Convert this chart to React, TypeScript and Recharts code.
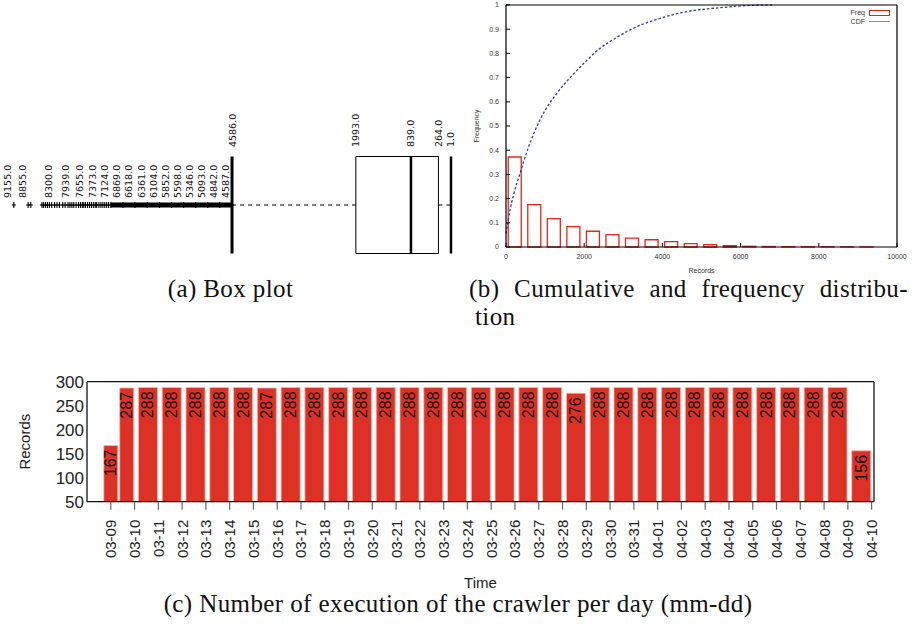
import {
  ComposedChart,
  Bar,
  Line,
  Scatter,
  XAxis,
  YAxis,
  ReferenceLine,
  ReferenceArea,
  LabelList,
  Legend,
} from 'recharts';

const SANS = '"Liberation Sans", Arial, sans-serif';
const DEJAVU = '"DejaVu Sans", sans-serif';
const SERIF = '"Liberation Serif", serif';

// ---------- (a) box plot: records per crawler execution ----------
const whiskerHigh = 4586;
const upperQuartile = 1993;
const medianRecords = 839;
const lowerQuartile = 264;
const whiskerLow = 1;
const summaryValues = [4586, 1993, 839, 264, 1];
// labelled outliers
const labeledOutliers = [
  9155, 8855, 8300, 7939, 7655, 7373, 7124, 6869, 6618, 6361, 6104, 5852, 5598, 5346, 5093, 4842,
  4587,
];
// unlabelled outliers between 7124 and 8855 (the sparse ticks)
const sparseOutliers = [
  8800, 8565, 8530, 8490, 8450, 8410, 8360, 8250, 8200, 8130, 8080, 8020, 7980, 7900, 7850, 7800,
  7760, 7720, 7690, 7610, 7570, 7530, 7490, 7450, 7420, 7330, 7290, 7250, 7210, 7170,
];
// outliers from 4587 to 7124 are so dense they merge into a bar
const denseOutlierLow = 4587;
const denseOutlierHigh = 7124;

// ---------- (b) frequency + CDF ----------
const binCenters = [
  230, 730, 1230, 1730, 2230, 2730, 3230, 3730, 4230, 4730, 5230, 5730, 6230, 6730, 7230, 7730, 8230,
  8730, 9230,
];
const binFreq = [
  0.372, 0.175, 0.117, 0.084, 0.065, 0.051, 0.037, 0.03, 0.022, 0.014, 0.01, 0.006, 0.003, 0.002,
  0.0015, 0.001, 0.001, 0.0008, 0.0005,
];
const cdfRecords = [
  0, 100, 200, 360, 570, 740, 1000, 1300, 1640, 1980, 2320, 2830, 3340, 3940, 4700, 5560, 6070, 6800,
];
const cdfValues = [
  0.055, 0.15, 0.22, 0.305, 0.41, 0.48, 0.565, 0.635, 0.7, 0.757, 0.81, 0.866, 0.91, 0.945, 0.975,
  0.99, 0.997, 1.0,
];
const recordTicks = [0, 2000, 4000, 6000, 8000, 10000];
const freqTicks = [0, 0.1, 0.2, 0.3, 0.4, 0.5, 0.6, 0.7, 0.8, 0.9, 1];

// ---------- (c) executions per day ----------
const dayLabels = [
  '03-09', '03-10', '03-11', '03-12', '03-13', '03-14', '03-15', '03-16', '03-17', '03-18', '03-19',
  '03-20', '03-21', '03-22', '03-23', '03-24', '03-25', '03-26', '03-27', '03-28', '03-29', '03-30',
  '03-31', '04-01', '04-02', '04-03', '04-04', '04-05', '04-06', '04-07', '04-08', '04-09', '04-10',
];
// time of each daily box, in days since 03-09
const runTimes = [
  0, 0.67, 1.58, 2.58, 3.58, 4.58, 5.58, 6.58, 7.58, 8.58, 9.58, 10.58, 11.58, 12.58, 13.58, 14.58,
  15.58, 16.58, 17.58, 18.58, 19.58, 20.58, 21.58, 22.58, 23.58, 24.58, 25.58, 26.58, 27.58, 28.58,
  29.58, 30.58, 31.58,
];
const runCounts = [
  167, 287, 288, 288, 288, 288, 288, 287, 288, 288, 288, 288, 288, 288, 288, 288, 288, 288, 288, 288,
  276, 288, 288, 288, 288, 288, 288, 288, 288, 288, 288, 288, 156,
];
const recordAxisTicks = [50, 100, 150, 200, 250, 300];
const firstFullDay = 2; // the first two boxes cover partial days and are narrower

const outlierRows = [...labeledOutliers, ...sparseOutliers].map((v) => ({ v, y: 0 }));
const outlierLabelRows = labeledOutliers.map((v) => ({ v, y: 0 }));
const summaryRows = summaryValues.map((v) => ({ v, y: 0.5 }));

const freqRows = binCenters.map((x, i) => ({ x, f: binFreq[i] }));
const cdfRows = cdfRecords.map((x, i) => ({ x, p: cdfValues[i] }));

// full days and partial days sit on separate (identical) x axes so their box widths differ
const runRows = runTimes.map((t, i) =>
  i >= firstFullDay
    ? { tFull: t, full: runCounts[i], tPart: null, part: null }
    : { tFull: null, full: null, tPart: t, part: runCounts[i] },
);
const dayTicks = dayLabels.map((_, i) => i);

function VText({ x, y, children, size, family, anchor = 'start', fill = '#111' }: any) {
  return (
    <text
      x={x}
      y={y}
      transform={`rotate(-90 ${x} ${y})`}
      textAnchor={anchor}
      dominantBaseline="central"
      fontSize={size}
      fontFamily={family}
      fill={fill}
    >
      {children}
    </text>
  );
}

function BoxPlot() {
  const mark = (p: any) => (
    <g stroke="#000" strokeWidth={1.1}>
      <line x1={p.cx} x2={p.cx} y1={p.cy - 3} y2={p.cy + 3} />
      <line x1={p.cx - 2} x2={p.cx + 2} y1={p.cy} y2={p.cy} />
    </g>
  );
  const outlierLabel = (p: any) => (
    <VText x={p.cx - 6} y={p.cy - 7} size={9.5} family={DEJAVU}>
      {p.payload.v.toFixed(1)}
    </VText>
  );
  const summaryLabel = (p: any) => (
    <VText x={p.cx} y={p.cy - 9.5} size={9.5} family={DEJAVU}>
      {p.payload.v.toFixed(1)}
    </VText>
  );
  return (
    <ComposedChart width={470} height={194} margin={{ top: 0, right: 0, bottom: 0, left: 0 }}>
      <XAxis type="number" dataKey="v" domain={[-397, 9444]} reversed hide allowDataOverflow />
      <YAxis type="number" dataKey="y" domain={[-1, 1]} hide allowDataOverflow />
      <ReferenceLine
        segment={[{ x: denseOutlierHigh, y: 0 }, { x: denseOutlierLow, y: 0 }]}
        stroke="#000"
        strokeWidth={5}
      />
      <ReferenceLine
        segment={[{ x: whiskerHigh, y: 0 }, { x: upperQuartile, y: 0 }]}
        stroke="#000"
        strokeDasharray="4 4"
      />
      <ReferenceLine
        segment={[{ x: lowerQuartile, y: 0 }, { x: whiskerLow, y: 0 }]}
        stroke="#000"
        strokeDasharray="4 4"
      />
      <ReferenceArea
        x1={lowerQuartile}
        x2={upperQuartile}
        y1={-0.5}
        y2={0.5}
        fill="#fff"
        fillOpacity={1}
        stroke="#000"
        strokeWidth={1}
      />
      <ReferenceLine
        segment={[{ x: medianRecords, y: -0.5 }, { x: medianRecords, y: 0.5 }]}
        stroke="#000"
        strokeWidth={2.5}
      />
      <ReferenceLine
        segment={[{ x: whiskerHigh, y: -0.5 }, { x: whiskerHigh, y: 0.5 }]}
        stroke="#000"
        strokeWidth={3}
      />
      <ReferenceLine
        segment={[{ x: whiskerLow, y: -0.5 }, { x: whiskerLow, y: 0.5 }]}
        stroke="#000"
        strokeWidth={2.5}
      />
      <Scatter data={outlierRows} shape={mark} isAnimationActive={false} />
      <Scatter data={outlierLabelRows} shape={outlierLabel} isAnimationActive={false} />
      <Scatter data={summaryRows} shape={summaryLabel} isAnimationActive={false} />
    </ComposedChart>
  );
}

function FreqLegend() {
  const row = { display: 'flex', alignItems: 'center', justifyContent: 'flex-end', height: 9 } as const;
  return (
    <div style={{ fontFamily: SANS, fontSize: 7, color: '#333', lineHeight: '9px' }}>
      <div style={row}>
        <span>Freq</span>
        <span
          style={{ display: 'inline-block', width: 19, height: 4, border: '1.2px solid #e3261c', marginLeft: 4 }}
        />
      </div>
      <div style={row}>
        <span>CDF</span>
        <span style={{ display: 'inline-block', width: 21, borderTop: '1.5px solid #7f8ac6', marginLeft: 4 }} />
      </div>
    </div>
  );
}

function FrequencyChart() {
  const axisLine = { stroke: '#000', strokeWidth: 1.2 };
  const tick = { fontSize: 7, fill: '#333', fontFamily: SANS };
  return (
    <ComposedChart width={450} height={285} data={freqRows} margin={{ top: 4, right: 12, bottom: 8, left: 0 }}>
      <XAxis
        xAxisId="b"
        type="number"
        dataKey="x"
        domain={[0, 10000]}
        ticks={recordTicks}
        interval={0}
        tickSize={-4}
        tickMargin={11}
        height={30}
        axisLine={axisLine}
        tickLine={{ stroke: '#000' }}
        tick={tick}
        label={{
          content: (p: any) => (
            <text
              x={p.viewBox.x + p.viewBox.width / 2}
              y={p.viewBox.y + 23}
              textAnchor="middle"
              dominantBaseline="central"
              fontSize={7}
              fontFamily={SANS}
              fill="#333"
            >
              Records
            </text>
          ),
        }}
      />
      {/* the CDF gets its own copy of the x axis so its dense points don't narrow the boxes */}
      <XAxis xAxisId="c" type="number" dataKey="x" domain={[0, 10000]} hide />
      <XAxis
        xAxisId="t"
        orientation="top"
        type="number"
        dataKey="x"
        domain={[0, 10000]}
        ticks={recordTicks}
        interval={0}
        height={1}
        tick={false}
        tickSize={-4}
        axisLine={axisLine}
        tickLine={{ stroke: '#000' }}
      />
      <YAxis
        yAxisId="l"
        type="number"
        domain={[0, 1]}
        ticks={freqTicks}
        interval={0}
        width={46}
        tickSize={-4}
        tickMargin={11}
        axisLine={axisLine}
        tickLine={{ stroke: '#000' }}
        tick={tick}
        tickFormatter={(v: number) => (v === 0 || v === 1 ? String(v) : v.toFixed(1))}
        label={{
          content: (p: any) => (
            <VText x={p.viewBox.x + 16} y={p.viewBox.y + p.viewBox.height / 2} size={7} family={SANS} anchor="middle" fill="#333">
              Frequency
            </VText>
          ),
        }}
      />
      <YAxis
        yAxisId="r"
        orientation="right"
        type="number"
        domain={[0, 1]}
        ticks={freqTicks}
        interval={0}
        width={1}
        tick={false}
        tickSize={-4}
        axisLine={axisLine}
        tickLine={{ stroke: '#000' }}
      />
      <Bar
        xAxisId="b"
        yAxisId="l"
        dataKey="f"
        name="Freq"
        barSize={13}
        fill="none"
        stroke="#e3261c"
        strokeWidth={1.3}
        isAnimationActive={false}
      />
      <Line
        xAxisId="c"
        yAxisId="l"
        data={cdfRows}
        dataKey="p"
        name="CDF"
        type="monotone"
        stroke="#2a3b9c"
        strokeWidth={1.3}
        strokeDasharray="2.5 2"
        dot={false}
        isAnimationActive={false}
      />
      <Legend
        layout="horizontal"
        verticalAlign="middle"
        align="center"
        content={() => <FreqLegend />}
        wrapperStyle={{ top: 8, left: 385, width: 45, height: 20 }}
      />
    </ComposedChart>
  );
}

function DayTick(props: any) {
  const { x, y, payload } = props;
  return (
    <VText x={x} y={y} anchor="end" size={15} family={SANS} fill="#222">
      {dayLabels[payload.value]}
    </VText>
  );
}

function countLabel(p: any) {
  const vb = p.viewBox ?? p;
  if (p.value == null) return null;
  return (
    <VText x={vb.x + vb.width / 2} y={vb.y + 4} anchor="end" size={16} family={SANS} fill="#111">
      {p.value}
    </VText>
  );
}

function DailyChart() {
  const axisLine = { stroke: '#111', strokeWidth: 1.3 };
  const grayTick = { stroke: '#666', strokeWidth: 1.2 };
  return (
    <ComposedChart width={916} height={250} data={runRows} margin={{ top: 20.7, right: 41, bottom: 28.3, left: 0 }}>
      <XAxis
        xAxisId="d"
        type="number"
        dataKey="tFull"
        domain={[-1, 32.1]}
        allowDataOverflow
        ticks={dayTicks}
        interval={0}
        tick={<DayTick />}
        tickSize={8}
        tickMargin={10}
        height={80}
        axisLine={axisLine}
        tickLine={grayTick}
        label={{
          content: (p: any) => (
            <text
              x={p.viewBox.x + p.viewBox.width / 2}
              y={p.viewBox.y + p.viewBox.height + 6}
              textAnchor="middle"
              fontSize={15}
              fontFamily={SANS}
              fill="#222"
            >
              Time
            </text>
          ),
        }}
      />
      <XAxis xAxisId="p" type="number" dataKey="tPart" domain={[-1, 32.1]} allowDataOverflow hide />
      <XAxis
        xAxisId="top"
        orientation="top"
        type="number"
        dataKey="tFull"
        domain={[-1, 32.1]}
        allowDataOverflow
        ticks={dayTicks}
        interval={0}
        height={1}
        tick={false}
        tickSize={8}
        axisLine={axisLine}
        tickLine={grayTick}
      />
      <YAxis
        yAxisId="v"
        type="number"
        domain={[50, 300]}
        ticks={recordAxisTicks}
        interval={0}
        width={87}
        tickLine={false}
        tickSize={0}
        tickMargin={3}
        axisLine={axisLine}
        tick={{ fontSize: 17, fill: '#222', fontFamily: SANS }}
        label={{
          content: (p: any) => (
            <VText x={p.viewBox.x + 25} y={p.viewBox.y + p.viewBox.height / 2} anchor="middle" size={15} family={SANS} fill="#222">
              Records
            </VText>
          ),
        }}
      />
      <YAxis
        yAxisId="r"
        orientation="right"
        type="number"
        domain={[50, 300]}
        ticks={recordAxisTicks}
        interval={0}
        width={1}
        tick={false}
        tickSize={-8}
        axisLine={axisLine}
        tickLine={grayTick}
      />
      <Bar
        xAxisId="d"
        yAxisId="v"
        dataKey="full"
        barSize={19}
        fill="#de3125"
        stroke="#f2b8b0"
        strokeWidth={0.8}
        isAnimationActive={false}
      >
        <LabelList dataKey="full" content={countLabel} />
      </Bar>
      <Bar
        xAxisId="p"
        yAxisId="v"
        dataKey="part"
        barSize={14}
        fill="#de3125"
        stroke="#f2b8b0"
        strokeWidth={0.8}
        isAnimationActive={false}
      >
        <LabelList dataKey="part" content={countLabel} />
      </Bar>
    </ComposedChart>
  );
}

const caption = {
  position: 'absolute',
  fontFamily: SERIF,
  fontSize: 25,
  lineHeight: '25px',
  letterSpacing: 0.4,
  color: '#111',
  whiteSpace: 'nowrap',
} as const;

export default function App() {
  return (
    <div style={{ position: 'absolute', left: 0, top: 0, width: 916, height: 634, background: '#fff', overflow: 'hidden' }}>
      <div style={{ position: 'absolute', left: 0, top: 108 }}>
        <BoxPlot />
      </div>
      <div style={{ position: 'absolute', left: 460, top: 0 }}>
        <FrequencyChart />
      </div>
      <div style={{ position: 'absolute', left: 0, top: 360 }}>
        <DailyChart />
      </div>
      <div style={{ ...caption, left: 0, top: 276, width: 461, textAlign: 'center' }}>(a) Box plot</div>
      <div
        style={{ ...caption, left: 469, top: 276, width: 439, whiteSpace: 'normal', textAlign: 'justify', textAlignLast: 'justify' }}
      >
        (b) Cumulative and frequency distribu-
      </div>
      <div style={{ ...caption, left: 475, top: 304 }}>tion</div>
      <div style={{ ...caption, left: 0, top: 591, width: 916, textAlign: 'center' }}>
        (c) Number of execution of the crawler per day (mm-dd)
      </div>
    </div>
  );
}
